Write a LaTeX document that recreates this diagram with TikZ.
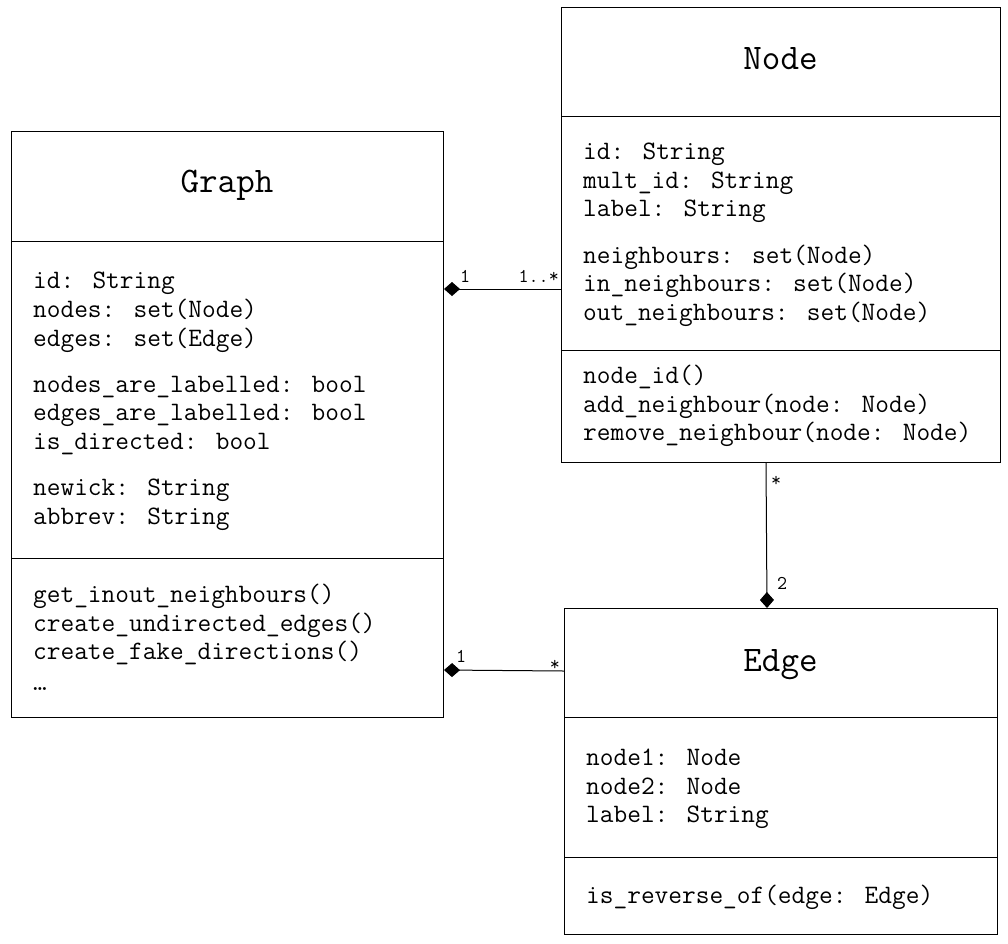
\documentclass[tikz,border=0pt]{standalone}
\usepackage{fontspec}
\usetikzlibrary{arrows.meta}
\begin{document}
\begin{tikzpicture}[x=1pt,y=-1pt,
  box/.style={draw, line width=1pt, inner sep=0pt, anchor=north west},
  sep/.style={line width=1pt},
  txt/.style={anchor=base west, inner sep=0pt, font=\ttfamily\fontsize{26.6}{30}\selectfont},
  ttl/.style={anchor=base, inner sep=0pt, font=\ttfamily\fontsize{36}{40}\selectfont},
  mult/.style={inner sep=0pt, font=\ttfamily\fontsize{19.5}{22}\selectfont},
  conn/.style={line width=1pt, -{Diamond[length=16pt,width=14pt]}}]
\useasboundingbox (0,0) rectangle (1008,943);
% boxes
\node[box, minimum width=432pt, minimum height=586pt] (graph) at (11,131) {};
\node[box, minimum width=439pt, minimum height=455pt] (nodebox) at (561,7) {};
\node[box, minimum width=433pt, minimum height=326pt] (edgebox) at (564,608) {};
% separators
\draw[sep] (graph.west |- 0,241) -- (graph.east |- 0,241);
\draw[sep] (graph.west |- 0,558) -- (graph.east |- 0,558);
\draw[sep] (nodebox.west |- 0,116) -- (nodebox.east |- 0,116);
\draw[sep] (nodebox.west |- 0,350) -- (nodebox.east |- 0,350);
\draw[sep] (edgebox.west |- 0,717) -- (edgebox.east |- 0,717);
\draw[sep] (edgebox.west |- 0,857) -- (edgebox.east |- 0,857);
% titles
\node[ttl] (gt) at (227,192) {Graph};
\node[ttl] (nt) at (780.5,69) {Node};
\node[ttl] (et) at (780.5,671) {Edge};
% Graph text
\node[txt] (g1) at (33,288) {id: String};
\node[txt] (g2) at (33,317) {nodes: set(Node)};
\node[txt] (g3) at (33,346) {edges: set(Edge)};
\node[txt] (g4) at (33,392) {nodes\_are\_labelled: bool};
\node[txt] (g5) at (33,420) {edges\_are\_labelled: bool};
\node[txt] (g6) at (33,449) {is\_directed: bool};
\node[txt] (g7) at (33,495) {newick: String};
\node[txt] (g8) at (33,524) {abbrev: String};
\node[txt] (g9) at (33,602) {get\_inout\_neighbours()};
\node[txt] (g10) at (33,631) {create\_undirected\_edges()};
\node[txt] (g11) at (33,659) {create\_fake\_directions()};
\node[txt] (g12) at (33,690) {…};
% Node text
\node[txt] (n1) at (583,159) {id: String};
\node[txt] (n2) at (583,188) {mult\_id: String};
\node[txt] (n3) at (583,216) {label: String};
\node[txt] (n4) at (583,263) {neighbours: set(Node)};
\node[txt] (n5) at (583,291) {in\_neighbours: set(Node)};
\node[txt] (n6) at (583,320) {out\_neighbours: set(Node)};
\node[txt] (n7) at (583,383) {node\_id()};
\node[txt] (n8) at (583,412) {add\_neighbour(node: Node)};
\node[txt] (n9) at (583,440) {remove\_neighbour(node: Node)};
% Edge text
\node[txt] (e1) at (586,765) {node1: Node};
\node[txt] (e2) at (586,794) {node2: Node};
\node[txt] (e3) at (586,822) {label: String};
\node[txt] (e4) at (586,903) {is\_reverse\_of(edge: Edge)};
% connectors
\coordinate (gn) at (graph.east |- 0,289);
\coordinate (ng) at (nodebox.west |- 0,289);
\coordinate (ge) at (graph.east |- 0,670);
\coordinate (eg) at (edgebox.west |- 0,671);
\coordinate (ne) at (766,462);
\coordinate (en) at (767,608);
\draw[conn] (ng) -- (gn);
\draw[conn] (eg) -- (ge);
\draw[conn] (ne) -- (en);
% multiplicities
\node[mult, anchor=base west] (m1) at (460,282) {1};
\node[mult, anchor=base east] (m2) at (559,282) {1..*};
\node[mult, anchor=base west] (m3) at (456,662) {1};
\node[mult, anchor=base east] (m4) at (560,670) {*};
\node[mult, anchor=base west] (m5) at (771,486) {*};
\node[mult, anchor=base west] (m6) at (777,589) {2};
\end{tikzpicture}
\end{document}
